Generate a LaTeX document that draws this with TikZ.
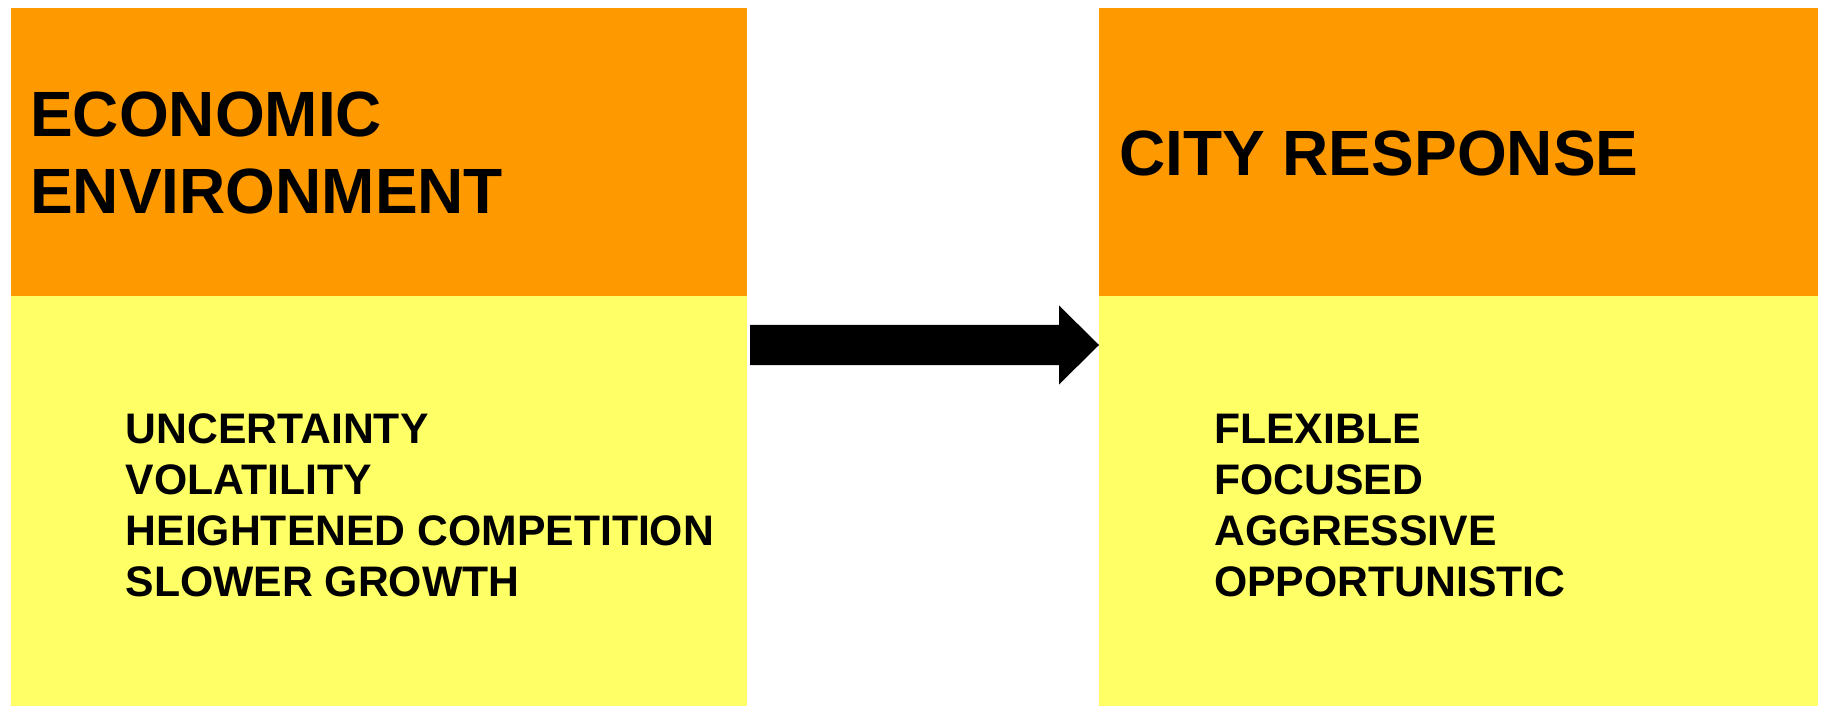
\documentclass[tikz,border=0pt]{standalone}
\usepackage{fontspec}
\setmainfont{Liberation Sans}
\usetikzlibrary{calc}
\definecolor{hdr}{HTML}{FF9900}
\definecolor{bdy}{HTML}{FFFF66}
\begin{document}
\begin{tikzpicture}[x=1pt,y=-1pt,
  panel/.style={anchor=north west,inner sep=0pt,outer sep=0pt,draw=none},
  title/.style={anchor=base west,inner sep=0pt,font=\fontsize{64}{77}\selectfont\bfseries},
  item/.style={anchor=base west,inner sep=0pt,font=\fontsize{42.7}{51}\selectfont\bfseries}]
\useasboundingbox (0,0) rectangle (1822,708);
% left panel
\node[panel,fill=hdr,minimum width=736pt,minimum height=288pt] (lh) at (11,8) {};
\node[panel,fill=bdy,minimum width=736pt,minimum height=410pt] (lb) at (11,296) {};
% right panel
\node[panel,fill=hdr,minimum width=719pt,minimum height=288pt] (rh) at (1099,8) {};
\node[panel,fill=bdy,minimum width=719pt,minimum height=410pt] (rb) at (1099,296) {};
% titles
\node[title] (t1) at (30,137) {ECONOMIC};
\node[title] (t2) at (30,214) {ENVIRONMENT};
\node[title] (t3) at (1119,176) {CITY RESPONSE};
% lists
\foreach \txt [count=\i] in {UNCERTAINTY,VOLATILITY,HEIGHTENED COMPETITION,SLOWER GROWTH}
  \node[item] (l\i) at (125.5,{443+51.3*(\i-1)}) {\txt};
\foreach \txt [count=\i] in {FLEXIBLE,FOCUSED,AGGRESSIVE,OPPORTUNISTIC}
  \node[item] (r\i) at (1214,{443+51.3*(\i-1)}) {\txt};
% arrow
\coordinate (as) at ($(lb.east |- 0,345)+(3,0)$);
\coordinate (at) at (rb.west |- 0,345);
\fill[black] ($(as)+(0,-20)$) -- ($(at)+(-40,-20)$) -- ($(at)+(-40,-39.5)$) -- (at)
  -- ($(at)+(-40,39.5)$) -- ($(at)+(-40,20)$) -- ($(as)+(0,20)$) -- cycle;
\end{tikzpicture}
\end{document}
